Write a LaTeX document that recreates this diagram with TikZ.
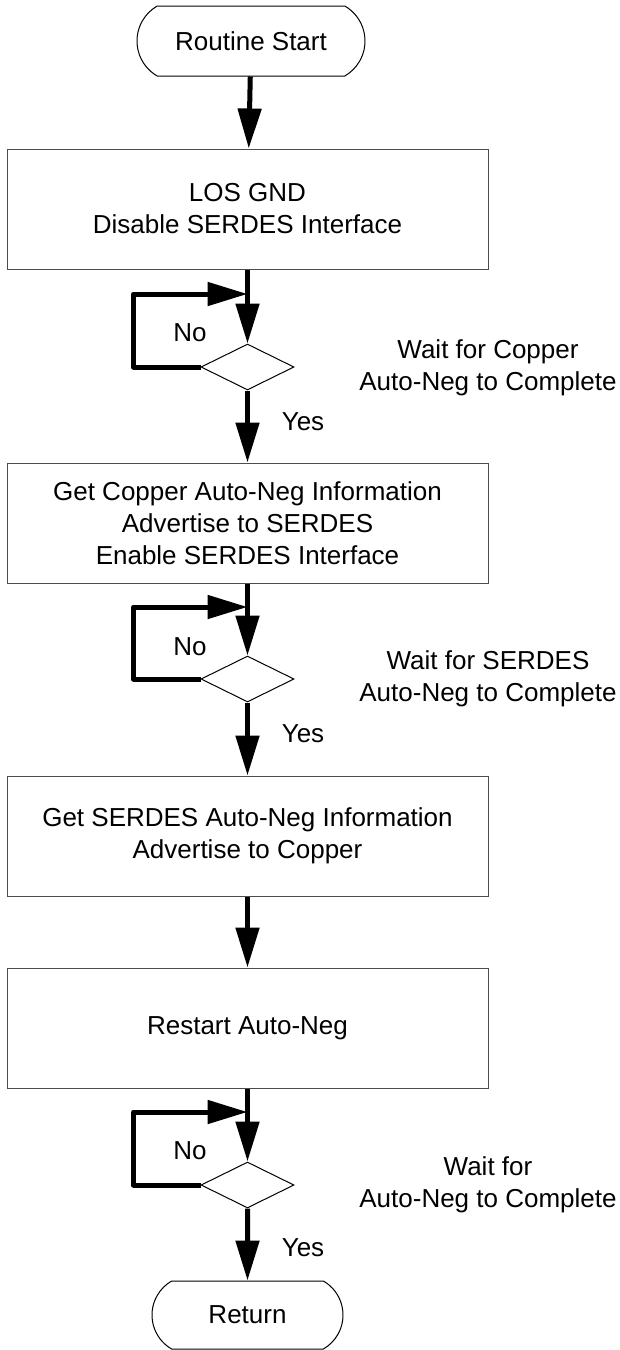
\documentclass[tikz,border=0pt]{standalone}
\usepackage{fontspec}
\setmainfont{Liberation Sans}
\usetikzlibrary{arrows.meta,shapes.geometric,shapes.misc}

\begin{document}
\begin{tikzpicture}[x=0.5pt,y=-0.5pt,font=\fontsize{13}{16}\selectfont,
  box/.style={draw=black!70,line width=0.5pt,minimum width=240.5pt,minimum height=60pt,align=center,inner sep=0pt},
  term/.style={draw,line width=0.5pt,rounded rectangle,rounded rectangle arc length=120,minimum height=35pt,inner sep=0pt},
  test/.style={draw,line width=0.5pt,diamond,aspect=2,minimum width=46.5pt,minimum height=23pt,inner sep=0pt},
  flow/.style={line width=2.5pt,line join=round,-{Triangle[length=20pt,width=11.5pt]}},
  note/.style={align=center}]
\useasboundingbox (0,0) rectangle (620,1350);
%\draw[help lines,step=50] (0,0) grid (620,1350);
\node[term,minimum width=114pt] (start) at (251,41) {Routine Start};
\node[box] (b1) at (247.5,209) {LOS GND\\Disable SERDES Interface};
\node[test] (d1) at (247.5,367) {};
\coordinate (j1) at (247.5,294);
\node (no1) at (190,333) {No};
\node (yes1) at (303,422) {Yes};
\node[note] (w1) at (488,368) {Wait for Copper\\Auto-Neg to Complete};
\node[box] (b2) at (247.5,523) {Get Copper Auto-Neg Information\\Advertise to SERDES\\Enable SERDES Interface};
\node[test] (d2) at (247.5,679) {};
\coordinate (j2) at (247.5,607);
\node (no2) at (190,647) {No};
\node (yes2) at (303,734) {Yes};
\node[note] (w2) at (488,679) {Wait for SERDES\\Auto-Neg to Complete};
\node[box] (b3) at (247.5,836) {Get SERDES Auto-Neg Information\\Advertise to Copper};
\node[box] (b4) at (247.5,1028) {Restart Auto-Neg};
\node[test] (d3) at (247.5,1185) {};
\coordinate (j3) at (247.5,1112);
\node (no3) at (190,1151) {No};
\node (yes3) at (303,1248) {Yes};
\node[note] (w3) at (488,1185) {Wait for\\Auto-Neg to Complete};
\node[term,minimum width=95.5pt,minimum height=34pt] (ret) at (247.5,1315) {Return};
% main flow
\draw[flow] (start) -- (b1);
\draw[flow] (b1) -- (d1);
\draw[flow] (d1) -- (b2);
\draw[flow] (b2) -- (d2);
\draw[flow] (d2) -- (b3);
\draw[flow] (b3) -- (b4);
\draw[flow] (b4) -- (d3);
\draw[flow] (d3) -- (ret);
% no loops
\draw[flow] (d1.west) -- ++(-67,0) |- (j1);
\draw[flow] (d2.west) -- ++(-67,0) |- (j2);
\draw[flow] (d3.west) -- ++(-67,0) |- (j3);
\end{tikzpicture}
\end{document}
